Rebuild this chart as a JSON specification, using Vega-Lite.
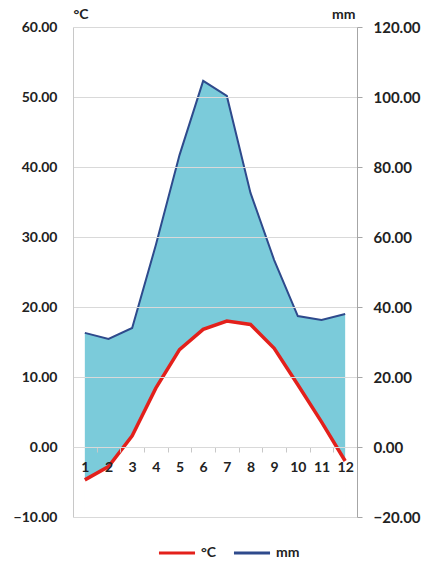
{
  "$schema": "https://vega.github.io/schema/vega-lite/v6.json",
  "width": 284,
  "height": 490,
  "autosize": {"type": "none"},
  "padding": {"left": 73, "top": 27, "right": 75, "bottom": 59},
  "background": "white",
  "config": {
    "view": {"stroke": null},
    "font": "Lato",
    "axis": {"labelColor": "#222222", "titleColor": "#222222", "labelFont": "Lato", "titleFont": "Lato"}
  },
  "data": {
    "values": [
      {"month": 1, "temp": -4.7, "mm": 32.6},
      {"month": 2, "temp": -2.8, "mm": 30.9},
      {"month": 3, "temp": 1.6, "mm": 34.0},
      {"month": 4, "temp": 8.4, "mm": 57.7},
      {"month": 5, "temp": 13.9, "mm": 83.4},
      {"month": 6, "temp": 16.8, "mm": 104.6},
      {"month": 7, "temp": 18.0, "mm": 100.3},
      {"month": 8, "temp": 17.5, "mm": 72.6},
      {"month": 9, "temp": 14.1, "mm": 53.4},
      {"month": 10, "temp": 8.9, "mm": 37.4},
      {"month": 11, "temp": 3.6, "mm": 36.3},
      {"month": 12, "temp": -2.0, "mm": 38.0}
    ]
  },
  "encoding": {
    "x": {
      "field": "month",
      "type": "quantitative",
      "scale": {"domain": [0.5, 12.5], "nice": false, "zero": false},
      "axis": {
        "orient": "bottom",
        "offset": -70,
        "zindex": 2,
        "values": [1, 2, 3, 4, 5, 6, 7, 8, 9, 10, 11, 12],
        "format": "d",
        "title": null,
        "grid": false,
        "domain": true,
        "domainColor": "#D9D9D9",
        "ticks": true,
        "tickColor": "#C8C8C8",
        "tickSize": 5,
        "tickOffset": 11.83,
        "labelOffset": -11.83,
        "labelPadding": 8,
        "labelFontSize": 14,
        "labelFontWeight": "bold",
        "labelFlush": false,
        "labelOverlap": false
      }
    }
  },
  "layer": [
    {
      "layer": [
        {
          "mark": {"type": "area", "color": "#7BCBDA", "opacity": 1},
          "encoding": {
            "y": {
              "field": "mm",
              "type": "quantitative",
              "scale": {"domain": [-20, 120], "nice": false, "zero": false},
              "axis": {
                "orient": "right",
                "zindex": 2,
                "values": [-20, 0, 20, 40, 60, 80, 100, 120],
                "format": ".2f",
                "grid": false,
                "domainColor": "#A6A6A6",
                "tickColor": "#A6A6A6",
                "tickSize": 5,
                "labelPadding": 11,
                "labelFontSize": 15,
                "labelFontWeight": "bold",
                "title": "mm",
                "titleAngle": 0,
                "titleX": -2,
                "titleY": -6,
                "titleAlign": "right",
                "titleBaseline": "bottom",
                "titleFontSize": 14,
                "titleFontWeight": "bold"
              }
            },
            "y2": {"datum": -20}
          }
        },
        {
          "mark": {"type": "line", "strokeWidth": 2},
          "encoding": {
            "y": {"field": "mm", "type": "quantitative"},
            "color": {"datum": "mm"}
          }
        }
      ]
    },
    {
      "layer": [
        {
          "mark": {"type": "area", "color": "white", "opacity": 1, "stroke": "white", "strokeWidth": 1.5},
          "encoding": {
            "y": {
              "field": "temp",
              "type": "quantitative",
              "scale": {"domain": [-10, 60], "nice": false, "zero": false},
              "axis": {
                "orient": "left",
                "zindex": 1,
                "values": [-10, 0, 10, 20, 30, 40, 50, 60],
                "format": ".2f",
                "grid": true,
                "gridColor": "#D9D9D9",
                "domainColor": "#C8C8C8",
                "ticks": false,
                "labelPadding": 16,
                "labelFontSize": 14,
                "labelFontWeight": "bold",
                "title": "°C",
                "titleAngle": 0,
                "titleX": 0,
                "titleY": -6,
                "titleAlign": "left",
                "titleBaseline": "bottom",
                "titleFontSize": 14,
                "titleFontWeight": "bold"
              }
            },
            "y2": {"datum": -10}
          }
        },
        {
          "mark": {"type": "line", "strokeWidth": 3.5},
          "encoding": {
            "y": {"field": "temp", "type": "quantitative"},
            "color": {
              "datum": "°C",
              "scale": {"domain": ["°C", "mm"], "range": ["#E3201B", "#2E4A8C"]},
              "legend": {
                "orient": "none",
                "legendX": 84,
                "legendY": 506,
                "direction": "horizontal",
                "title": null,
                "symbolType": "stroke",
                "symbolSize": 1300,
                "symbolStrokeWidth": 3,
                "labelFontSize": 14,
                "labelFontWeight": "bold",
                "labelColor": "#222222",
                "columnPadding": 10
              }
            }
          }
        }
      ]
    }
  ],
  "resolve": {"scale": {"y": "independent"}}
}
